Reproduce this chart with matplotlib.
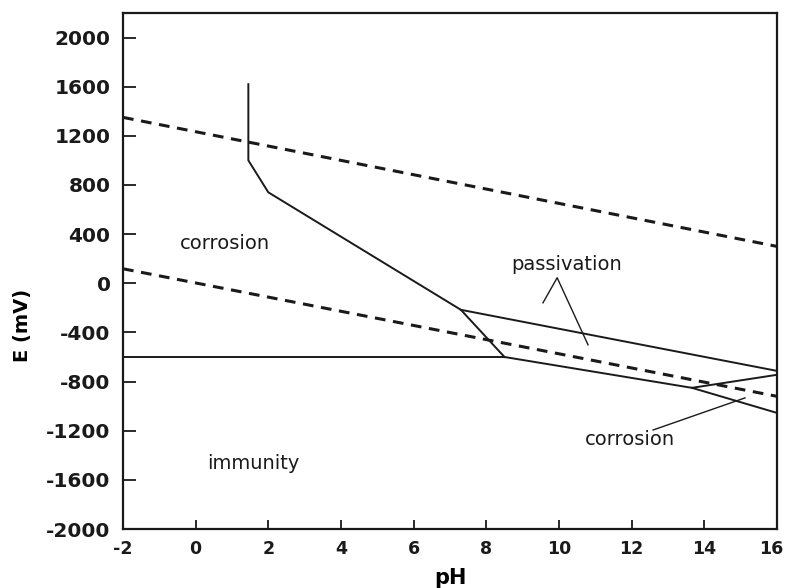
"""
Potential-pH (Pourbaix) diagram with corrosion / immunity / passivation regions
"""

import matplotlib
matplotlib.use('Agg')
import matplotlib.pyplot as plt
from matplotlib.transforms import ScaledTranslation

# Region boundaries (pH, E in mV)
boundary_ph = [1.45, 1.45, 2.0, 7.3, 8.5]
boundary_E = [1620, 1000, 740, -216, -600]

immunity_ph = [-2, 8.5]
immunity_E = [-600, -600]

passive_upper_ph = [7.3, 16]
passive_upper_E = [-216, -713]

passive_lower_ph = [8.5, 13.66, 16]
passive_lower_E = [-600, -851, -1055]

alkaline_ph = [13.66, 16]
alkaline_E = [-851, -745]

# Water stability lines (dashed)
water_ph = [-2, 16]
oxygen_E = [1350, 300]
hydrogen_E = [118, -920]

xticks = [-2, 0, 2, 4, 6, 8, 10, 12, 14, 16]
yticks = [-2000, -1600, -1200, -800, -400, 0, 400, 800, 1200, 1600, 2000]

plt.rcParams['font.family'] = ['DejaVu Sans']

fig = plt.figure(figsize=(7.86, 5.88), dpi=100)
ax = fig.add_axes([0.1565, 0.1003, 0.832, 0.8777])

lc = '#1a1a1a'
ax.plot(water_ph, oxygen_E, color=lc, lw=2.2, dashes=(3.5, 2.5))
ax.plot(water_ph, hydrogen_E, color=lc, lw=2.2, dashes=(3.5, 2.5))

ax.plot(boundary_ph, boundary_E, color=lc, lw=1.4)
ax.plot(immunity_ph, immunity_E, color=lc, lw=1.4)
ax.plot(passive_upper_ph, passive_upper_E, color=lc, lw=1.4)
ax.plot(passive_lower_ph, passive_lower_E, color=lc, lw=1.4)
ax.plot(alkaline_ph, alkaline_E, color=lc, lw=1.4)

# Region labels
tkw = dict(fontsize=14, color=lc, ha='center', va='center')
ax.text(0.80, 320, 'corrosion', **tkw)
ax.text(1.58, -1470, 'immunity', **tkw)
ax.text(10.22, 155, 'passivation', **tkw)
ax.text(11.95, -1275, 'corrosion', **tkw)

# Pointer lines
ax.plot([9.56, 9.95, 10.8], [-159, 45, -501], color=lc, lw=1.0)
ax.plot([12.59, 15.12], [-1194, -933], color=lc, lw=1.0)

ax.set_xlim(-2, 16)
ax.set_ylim(-2000, 2200)
ax.set_xticks(xticks)
ax.set_yticks(yticks)
ax.set_xticklabels([str(v) for v in xticks], fontsize=12.5, fontweight='bold')
ax.set_yticklabels([str(v) for v in yticks], fontsize=14.5, fontweight='bold')
ax.tick_params(axis='x', direction='in', length=6.5, width=1.3, pad=8, colors=lc)
ax.tick_params(axis='y', direction='in', length=9.5, width=1.3, pad=9, colors=lc)
for sp in ax.spines.values():
    sp.set_linewidth(1.6)
    sp.set_color(lc)

# keep the last pH label inside the canvas
last = ax.get_xticklabels()[-1]
last.set_transform(last.get_transform() + ScaledTranslation(-4 / 72, 0, fig.dpi_scale_trans))

ax.set_xlabel('pH', fontsize=15, fontweight='bold', va='center')
ax.set_ylabel('E (mV)', fontsize=14, fontweight='bold', va='center')
ax.xaxis.set_label_coords(0.5, -0.095)
ax.yaxis.set_label_coords(-0.154, 0.395)

fig.savefig('out.png', dpi=100)
